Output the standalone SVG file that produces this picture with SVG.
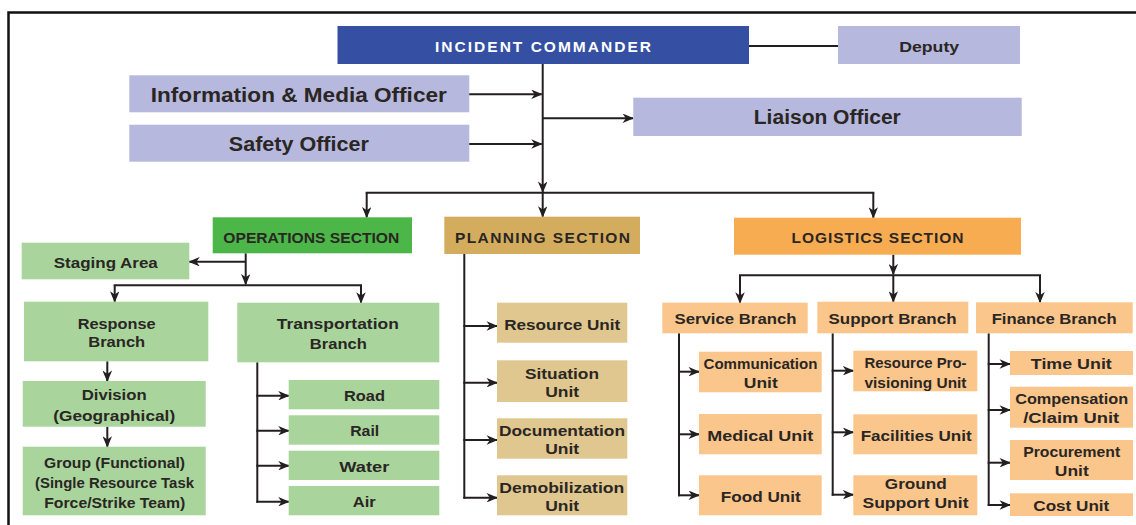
<svg xmlns="http://www.w3.org/2000/svg" width="1136" height="525" viewBox="0 0 1136 525">
<style>
text{font-family:"Liberation Sans","Open Sans",sans-serif;font-weight:700;fill:#2a2624;text-anchor:middle}
.b{font-size:15.5px}
.l{font-size:19.5px}
.h{font-size:15.5px}
.w{fill:#ffffff}
.ic{fill:#3550a3}
.lav{fill:#b7b8dd}
.og{fill:#4cb748}
.lg{fill:#a9d59c}
.pl{fill:#d3ad5d}
.pu{fill:#e0c68f}
.lo{fill:#f8ac52}
.lu{fill:#fbc68b}
.c{fill:none;stroke:#231f20;stroke-width:2}
.a{marker-end:url(#ah)}
</style>
<defs>
<marker id="ah" viewBox="0 0 12 10" refX="11" refY="5" markerWidth="12" markerHeight="9.5" markerUnits="userSpaceOnUse" orient="auto">
<path d="M0,0 L12,5 L0,10 L3.5,5 z" fill="#231f20"/>
</marker>
</defs>
<rect width="1136" height="525" fill="#ffffff"/>
<path d="M8.5,525 V12.5 H1136" fill="none" stroke="#111" stroke-width="2.5"/>

<g id="connectors">
<path class="c" d="M749,46 H838"/>
<path class="c a" d="M542.7,64 V192"/>
<path class="c a" d="M469,94.3 H541.7"/>
<path class="c a" d="M469,144 H541.7"/>
<path class="c a" d="M542.7,118.3 H633"/>
<path class="c" d="M365.7,192.7 H874.3"/>
<path class="c a" d="M366.7,192.7 V217.3"/>
<path class="c a" d="M542.7,192.7 V216.7"/>
<path class="c a" d="M873.3,192.7 V217.7"/>
<path class="c a" d="M245.7,253.3 V284.3"/>
<path class="c a" d="M245.7,261.7 H189.3"/>
<path class="c" d="M113.7,285.3 H362"/>
<path class="c a" d="M114.7,285.3 V301.7"/>
<path class="c a" d="M361,285.3 V302.7"/>
<path class="c a" d="M107.3,361.3 V381"/>
<path class="c a" d="M107.3,426.7 V446.7"/>
<path class="c" d="M257.3,362.3 V502.7"/>
<path class="c a" d="M256.3,395.7 H288.7"/>
<path class="c a" d="M256.3,430.7 H288.7"/>
<path class="c a" d="M256.3,465.7 H288.7"/>
<path class="c a" d="M256.3,501.7 H288.7"/>
<path class="c" d="M464.3,254 V498.7"/>
<path class="c a" d="M463.3,326 H497"/>
<path class="c a" d="M463.3,382.7 H497"/>
<path class="c a" d="M463.3,440 H497"/>
<path class="c a" d="M463.3,497.7 H497"/>
<path class="c a" d="M893.3,254.7 V274.3"/>
<path class="c" d="M739,275.3 H1041"/>
<path class="c a" d="M740,275.3 V302.7"/>
<path class="c a" d="M893.3,275.3 V301.7"/>
<path class="c a" d="M1040,275.3 V302.3"/>
<path class="c" d="M679,333.3 V496.3"/>
<path class="c a" d="M678,371.7 H699"/>
<path class="c a" d="M678,434.3 H699"/>
<path class="c a" d="M678,495.3 H699"/>
<path class="c" d="M832.7,333.3 V495.7"/>
<path class="c a" d="M831.7,370.7 H853.3"/>
<path class="c a" d="M831.7,432.3 H853.3"/>
<path class="c a" d="M831.7,494.7 H853.3"/>
<path class="c" d="M988.7,333.3 V506"/>
<path class="c a" d="M987.7,364 H1010"/>
<path class="c a" d="M987.7,410 H1010"/>
<path class="c a" d="M987.7,462.7 H1010"/>
<path class="c a" d="M987.7,505 H1010"/>
</g>

<g id="incident-commander"><rect class="ic" x="337.5" y="26" width="411.5" height="38"/><text class="h w" x="543" y="51.5" textLength="216" lengthAdjust="spacing">INCIDENT COMMANDER</text></g>
<g id="deputy"><rect class="lav" x="838" y="26" width="182" height="38"/><text class="h" x="929.2" y="51.5" textLength="60" lengthAdjust="spacingAndGlyphs">Deputy</text></g>
<g id="info-media-officer"><rect class="lav" x="129.3" y="75.3" width="340" height="37"/><text class="l" x="298.8" y="101.7" textLength="296" lengthAdjust="spacingAndGlyphs">Information &amp; Media Officer</text></g>
<g id="safety-officer"><rect class="lav" x="129.3" y="124.7" width="340" height="37"/><text class="l" x="298.8" y="151.3" textLength="140" lengthAdjust="spacingAndGlyphs">Safety Officer</text></g>
<g id="liaison-officer"><rect class="lav" x="633.3" y="97.7" width="388.4" height="38.3"/><text class="l" x="827.3" y="124" textLength="147" lengthAdjust="spacingAndGlyphs">Liaison Officer</text></g>

<g id="operations-section"><rect class="og" x="212.7" y="217.3" width="199.3" height="36"/><text class="h" x="311.3" y="242.7" textLength="176" lengthAdjust="spacingAndGlyphs">OPERATIONS SECTION</text></g>
<g id="planning-section"><rect class="pl" x="444.3" y="216.7" width="195.7" height="37.3"/><text class="h" x="542.5" y="242.7" textLength="175" lengthAdjust="spacing">PLANNING SECTION</text></g>
<g id="logistics-section"><rect class="lo" x="734" y="217.7" width="287" height="37"/><text class="h" x="877.5" y="243" textLength="172" lengthAdjust="spacing">LOGISTICS SECTION</text></g>

<g id="staging-area"><rect class="lg" x="21.7" y="242.7" width="167.6" height="36.6"/><text class="b" x="105.8" y="267.7" textLength="104" lengthAdjust="spacingAndGlyphs">Staging Area</text></g>
<g id="response-branch"><rect class="lg" x="24" y="301.7" width="184.3" height="59.6"/><text class="b" x="116.7" y="329.3" textLength="78" lengthAdjust="spacingAndGlyphs">Response</text><text class="b" x="116.7" y="346.9" textLength="57" lengthAdjust="spacingAndGlyphs">Branch</text></g>
<g id="transportation-branch"><rect class="lg" x="237.3" y="302.7" width="202" height="59.6"/><text class="b" x="337.8" y="329.3" textLength="122" lengthAdjust="spacingAndGlyphs">Transportation</text><text class="b" x="338.3" y="348.7" textLength="57" lengthAdjust="spacingAndGlyphs">Branch</text></g>
<g id="division"><rect class="lg" x="22.7" y="381" width="183" height="45.7"/><text class="b" x="114.2" y="400" textLength="65" lengthAdjust="spacingAndGlyphs">Division</text><text class="b" x="114.2" y="420.7" textLength="122" lengthAdjust="spacingAndGlyphs">(Geographical)</text></g>
<g id="group"><rect class="lg" x="22.7" y="446.7" width="183" height="68.6"/><text class="b" x="114.5" y="468.3" textLength="141" lengthAdjust="spacingAndGlyphs">Group (Functional)</text><text class="b" x="114.5" y="488.3" textLength="159" lengthAdjust="spacingAndGlyphs">(Single Resource Task</text><text class="b" x="114.7" y="508.3" textLength="141" lengthAdjust="spacingAndGlyphs">Force/Strike Team)</text></g>
<g id="road"><rect class="lg" x="288.7" y="380" width="150.6" height="29.3"/><text class="b" x="364.5" y="401" textLength="41" lengthAdjust="spacingAndGlyphs">Road</text></g>
<g id="rail"><rect class="lg" x="288.7" y="415.3" width="150.6" height="29.4"/><text class="b" x="364.7" y="436.3" textLength="29" lengthAdjust="spacingAndGlyphs">Rail</text></g>
<g id="water"><rect class="lg" x="288.7" y="450.7" width="150.6" height="29.3"/><text class="b" x="364.3" y="471.7" textLength="50" lengthAdjust="spacingAndGlyphs">Water</text></g>
<g id="air"><rect class="lg" x="288.7" y="486" width="150.6" height="29.3"/><text class="b" x="364.3" y="507.3" textLength="23" lengthAdjust="spacingAndGlyphs">Air</text></g>

<g id="resource-unit"><rect class="pu" x="497" y="302.7" width="130.3" height="40"/><text class="b" x="562.2" y="330" textLength="116" lengthAdjust="spacingAndGlyphs">Resource Unit</text></g>
<g id="situation-unit"><rect class="pu" x="497" y="360.3" width="130.3" height="41.7"/><text class="b" x="562" y="379.3" textLength="74" lengthAdjust="spacingAndGlyphs">Situation</text><text class="b" x="562.2" y="397" textLength="34" lengthAdjust="spacingAndGlyphs">Unit</text></g>
<g id="documentation-unit"><rect class="pu" x="497" y="418.3" width="130.3" height="40.4"/><text class="b" x="562" y="435.7" textLength="126" lengthAdjust="spacingAndGlyphs">Documentation</text><text class="b" x="562.2" y="454.3" textLength="34" lengthAdjust="spacingAndGlyphs">Unit</text></g>
<g id="demobilization-unit"><rect class="pu" x="497" y="475.3" width="130.3" height="40"/><text class="b" x="561.8" y="493.3" textLength="125" lengthAdjust="spacingAndGlyphs">Demobilization</text><text class="b" x="562.2" y="511.3" textLength="34" lengthAdjust="spacingAndGlyphs">Unit</text></g>

<g id="service-branch"><rect class="lu" x="662.3" y="302.7" width="145.4" height="30.6"/><text class="b" x="735.5" y="324" textLength="122" lengthAdjust="spacingAndGlyphs">Service Branch</text></g>
<g id="support-branch"><rect class="lu" x="817.3" y="301.7" width="151" height="31.6"/><text class="b" x="892.5" y="324" textLength="128" lengthAdjust="spacingAndGlyphs">Support Branch</text></g>
<g id="finance-branch"><rect class="lu" x="976" y="302.3" width="156.7" height="31"/><text class="b" x="1054.2" y="324" textLength="125" lengthAdjust="spacingAndGlyphs">Finance Branch</text></g>

<g id="communication-unit"><rect class="lu" x="699" y="351.7" width="122.7" height="40.6"/><text class="b" x="760.5" y="369.3" textLength="114" lengthAdjust="spacingAndGlyphs">Communication</text><text class="b" x="760.8" y="388.3" textLength="34" lengthAdjust="spacingAndGlyphs">Unit</text></g>
<g id="medical-unit"><rect class="lu" x="699" y="414" width="122.7" height="40.3"/><text class="b" x="760.3" y="441" textLength="106" lengthAdjust="spacingAndGlyphs">Medical Unit</text></g>
<g id="food-unit"><rect class="lu" x="699" y="475.3" width="122.7" height="40"/><text class="b" x="760.8" y="501.7" textLength="80" lengthAdjust="spacingAndGlyphs">Food Unit</text></g>

<g id="resource-provisioning-unit"><rect class="lu" x="853.3" y="350.7" width="124" height="40.6"/><text class="b" x="915.5" y="368.3" textLength="102" lengthAdjust="spacingAndGlyphs">Resource Pro-</text><text class="b" x="915.5" y="388.3" textLength="102" lengthAdjust="spacingAndGlyphs">visioning Unit</text></g>
<g id="facilities-unit"><rect class="lu" x="853.3" y="414.3" width="124" height="40"/><text class="b" x="916.2" y="441" textLength="111" lengthAdjust="spacingAndGlyphs">Facilities Unit</text></g>
<g id="ground-support-unit"><rect class="lu" x="853.3" y="475.3" width="124" height="40"/><text class="b" x="915.8" y="488.7" textLength="62" lengthAdjust="spacingAndGlyphs">Ground</text><text class="b" x="915.5" y="508.3" textLength="106" lengthAdjust="spacingAndGlyphs">Support Unit</text></g>

<g id="time-unit"><rect class="lu" x="1010" y="351" width="123" height="24"/><text class="b" x="1071.3" y="369" textLength="81" lengthAdjust="spacingAndGlyphs">Time Unit</text></g>
<g id="compensation-claim-unit"><rect class="lu" x="1010" y="386.7" width="123" height="41"/><text class="b" x="1071.7" y="404" textLength="113" lengthAdjust="spacingAndGlyphs">Compensation</text><text class="b" x="1071.2" y="423.3" textLength="96" lengthAdjust="spacingAndGlyphs">/Claim Unit</text></g>
<g id="procurement-unit"><rect class="lu" x="1010" y="440" width="123" height="40"/><text class="b" x="1071.7" y="456.7" textLength="97" lengthAdjust="spacingAndGlyphs">Procurement</text><text class="b" x="1071.8" y="476" textLength="34" lengthAdjust="spacingAndGlyphs">Unit</text></g>
<g id="cost-unit"><rect class="lu" x="1010" y="493.3" width="123" height="22.7"/><text class="b" x="1071.3" y="511" textLength="76" lengthAdjust="spacingAndGlyphs">Cost Unit</text></g>
</svg>
